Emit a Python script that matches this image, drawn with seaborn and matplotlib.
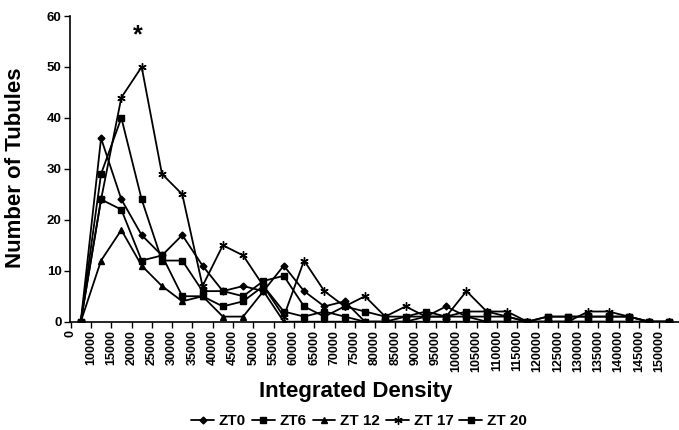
import numpy as np
import pandas as pd
import matplotlib
matplotlib.use("Agg")
import matplotlib.pyplot as plt
import seaborn as sns

# 分箱标签（Excel 风格，标签落在刻度上，数据点在两刻度之间）
bin_labels = ["0", "10000", "15000", "20000", "25000", "30000", "35000", "40000",
              "45000", "50000", "55000", "60000", "65000", "70000", "75000", "80000",
              "85000", "90000", "95000", "100000", "105000", "110000", "115000",
              "120000", "125000", "130000", "135000", "140000", "145000", "150000"]

zt0 = [0, 36, 24, 17, 13, 17, 11, 6, 7, 6, 11, 6, 3, 4, 0, 0, 1, 1, 3, 1,
       0, 0, 0, 0, 0, 0, 0, 0, 0, 0]
zt6 = [0, 29, 40, 24, 12, 12, 6, 6, 5, 8, 9, 3, 1, 3, 2, 1, 1, 2, 1, 2,
       2, 1, 0, 1, 1, 1, 1, 1, 0, 0]
zt12 = [0, 12, 18, 11, 7, 4, 5, 1, 1, 6, 0, 0, 0, 0, 0, 0, 0, 0, 0, 0,
        0, 0, 0, 0, 0, 0, 0, 0, 0, 0]
zt17 = [0, 24, 44, 50, 29, 25, 7, 15, 13, 7, 1, 12, 6, 3, 5, 1, 3, 1, 1, 6,
        2, 2, 0, 0, 0, 2, 2, 1, 0, 0]
zt20 = [0, 24, 22, 12, 13, 5, 5, 3, 4, 7, 2, 1, 2, 1, 0, 0, 0, 1, 1, 1,
        1, 1, 0, 1, 1, 1, 1, 1, 0, 0]

series_names = ["ZT0", "ZT6", "ZT 12", "ZT 17", "ZT 20"]
series_values = [zt0, zt6, zt12, zt17, zt20]
series_markers = ["D", "s", "^", (6, 2, 0), "s"]
marker_sizes = [3.5, 4.5, 4.5, 6, 4]

star_label = "*"

# =============================================================================
# 样式（seaborn 主题会把文字设成深灰，这里改回纯黑）
# =============================================================================
sns.set_theme(style="white")
plt.rcParams["font.family"] = ["Liberation Sans", "DejaVu Sans"]
plt.rcParams["font.weight"] = "bold"
for key in ["text.color", "axes.labelcolor", "xtick.color", "ytick.color",
            "axes.edgecolor"]:
    plt.rcParams[key] = "black"

fig = plt.figure(figsize=(6.79, 4.30), dpi=100)
ax = fig.add_axes([70 / 679, 108.3 / 430, 609 / 679, 305.7 / 430])

idx = np.arange(len(bin_labels))
for name, vals, mk, ms in zip(series_names, series_values, series_markers, marker_sizes):
    df = pd.DataFrame({"bin": idx, "count": vals})
    sns.lineplot(data=df, x="bin", y="count", ax=ax, color="black",
                 linewidth=1.3, marker=mk, markersize=ms,
                 markeredgecolor="black", markerfacecolor="black",
                 markeredgewidth=1.0, label=name, legend=False)

ax.set_xlim(-0.53, 29.47)
ax.set_ylim(0, 60)
ax.set_yticks(np.arange(0, 61, 10))
ax.set_xticks(idx - 0.5)
ax.set_xticklabels(bin_labels, rotation=90, fontsize=9, fontweight="bold")
for t in ax.get_yticklabels():
    t.set_fontsize(9.5)
    t.set_fontweight("bold")

ax.tick_params(axis="both", direction="out", length=4, width=1, color="black",
               bottom=True, left=True, pad=2)
for side in ["top", "right"]:
    ax.spines[side].set_visible(False)
for side in ["left", "bottom"]:
    ax.spines[side].set_color("black")
    ax.spines[side].set_linewidth(1.2)
ax.set_xlabel("")
ax.set_ylabel("")

# 显著性标记
ax.text(2.8, 56.3, star_label, ha="center", va="center", fontsize=18, fontweight="bold")

fig.text(356 / 679, 1 - 391 / 430, "Integrated Density", ha="center", va="center",
         fontsize=16, fontweight="bold")
fig.text(16 / 679, 1 - 168 / 430, "Number of Tubules", ha="center", va="center",
         rotation=90, fontsize=16, fontweight="bold")

handles, labels = ax.get_legend_handles_labels()
fig.legend(handles, labels, loc="center", bbox_to_anchor=(359 / 679, 1 - 421 / 430),
           ncol=5, frameon=False, handlelength=1.5, columnspacing=0.4,
           handletextpad=0.3, borderpad=0.1, prop={"size": 11, "weight": "bold"})

fig.savefig("out.png", dpi=100)
